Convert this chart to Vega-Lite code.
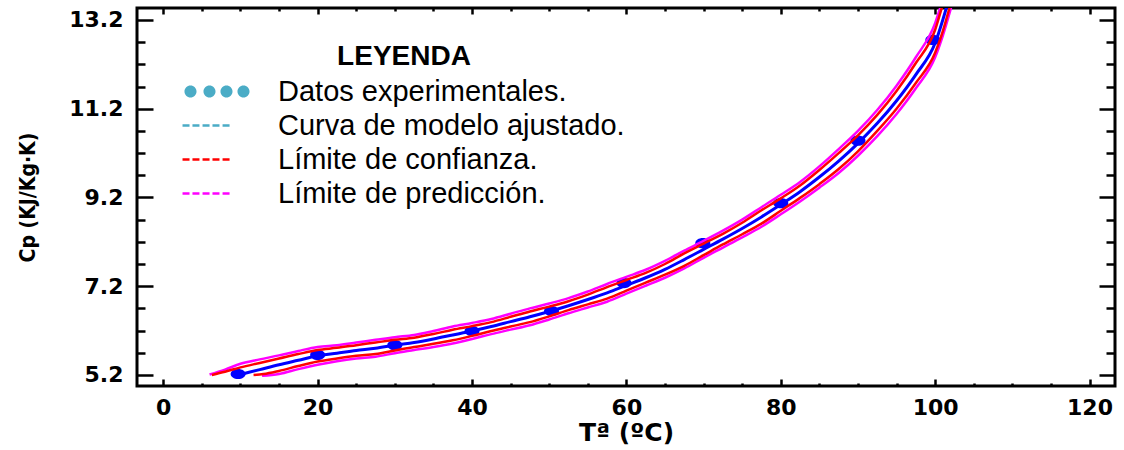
{
  "$schema": "https://vega.github.io/schema/vega-lite/v6.json",
  "width": 978,
  "height": 378,
  "autosize": {"type": "none"},
  "padding": {"left": 137, "top": 8, "right": 9, "bottom": 64},
  "background": "white",
  "config": {
    "view": {"stroke": "black", "strokeWidth": 3},
    "axis": {"grid": false, "domain": false, "tickColor": "black", "tickWidth": 2.5, "labelColor": "black", "titleColor": "black", "labelFlush": false, "labelOverlap": false}
  },
  "datasets": {
    "pts": [
      {"T": 9.7, "Cp": 5.22}, {"T": 20, "Cp": 5.65}, {"T": 30, "Cp": 5.87}, {"T": 40, "Cp": 6.19},
      {"T": 50.3, "Cp": 6.64}, {"T": 59.7, "Cp": 7.27}, {"T": 69.9, "Cp": 8.17}, {"T": 80, "Cp": 9.07},
      {"T": 90, "Cp": 10.48}, {"T": 99.7, "Cp": 12.75}
    ],
    "fit": [
      {"T": 10, "Cp": 5.21}, {"T": 12.5, "Cp": 5.32}, {"T": 15, "Cp": 5.43}, {"T": 17.5, "Cp": 5.53},
      {"T": 20, "Cp": 5.63}, {"T": 22.5, "Cp": 5.69}, {"T": 25, "Cp": 5.75}, {"T": 27.5, "Cp": 5.8},
      {"T": 30, "Cp": 5.87}, {"T": 32.5, "Cp": 5.93}, {"T": 35, "Cp": 6.01}, {"T": 37.5, "Cp": 6.1},
      {"T": 40, "Cp": 6.19}, {"T": 42.5, "Cp": 6.29}, {"T": 45, "Cp": 6.4}, {"T": 47.5, "Cp": 6.51},
      {"T": 50, "Cp": 6.63}, {"T": 52.5, "Cp": 6.76}, {"T": 55, "Cp": 6.9}, {"T": 57.5, "Cp": 7.05},
      {"T": 60, "Cp": 7.22}, {"T": 62.5, "Cp": 7.39}, {"T": 65, "Cp": 7.58}, {"T": 67.5, "Cp": 7.8},
      {"T": 70, "Cp": 8.03}, {"T": 72.5, "Cp": 8.26}, {"T": 75, "Cp": 8.5}, {"T": 77.5, "Cp": 8.76},
      {"T": 80, "Cp": 9.04}, {"T": 82.5, "Cp": 9.33}, {"T": 85, "Cp": 9.66}, {"T": 87.5, "Cp": 10.02},
      {"T": 90, "Cp": 10.42}, {"T": 92.5, "Cp": 10.87}, {"T": 95, "Cp": 11.38}, {"T": 97.5, "Cp": 11.97},
      {"T": 100, "Cp": 12.68}, {"T": 101.5, "Cp": 13.5}
    ],
    "conf": [
      {"s": "up", "T": 6.3, "Cp": 5.2}, {"s": "up", "T": 8, "Cp": 5.27}, {"s": "up", "T": 10, "Cp": 5.37},
      {"s": "up", "T": 12.5, "Cp": 5.47}, {"s": "up", "T": 15, "Cp": 5.57}, {"s": "up", "T": 17.5, "Cp": 5.67},
      {"s": "up", "T": 20, "Cp": 5.76}, {"s": "up", "T": 22.5, "Cp": 5.81}, {"s": "up", "T": 25, "Cp": 5.87},
      {"s": "up", "T": 27.5, "Cp": 5.93}, {"s": "up", "T": 30, "Cp": 5.99}, {"s": "up", "T": 32.5, "Cp": 6.04},
      {"s": "up", "T": 35, "Cp": 6.12}, {"s": "up", "T": 37.5, "Cp": 6.22}, {"s": "up", "T": 40, "Cp": 6.3},
      {"s": "up", "T": 42.5, "Cp": 6.39}, {"s": "up", "T": 45, "Cp": 6.51}, {"s": "up", "T": 47.5, "Cp": 6.63},
      {"s": "up", "T": 50, "Cp": 6.74}, {"s": "up", "T": 52.5, "Cp": 6.86}, {"s": "up", "T": 55, "Cp": 7.01},
      {"s": "up", "T": 57.5, "Cp": 7.18}, {"s": "up", "T": 60, "Cp": 7.34}, {"s": "up", "T": 62.5, "Cp": 7.5},
      {"s": "up", "T": 65, "Cp": 7.7}, {"s": "up", "T": 67.5, "Cp": 7.94}, {"s": "up", "T": 70, "Cp": 8.16},
      {"s": "up", "T": 72.5, "Cp": 8.38}, {"s": "up", "T": 75, "Cp": 8.63}, {"s": "up", "T": 77.5, "Cp": 8.91},
      {"s": "up", "T": 80, "Cp": 9.18}, {"s": "up", "T": 82.5, "Cp": 9.47}, {"s": "up", "T": 85, "Cp": 9.82},
      {"s": "up", "T": 87.5, "Cp": 10.2}, {"s": "up", "T": 90, "Cp": 10.6}, {"s": "up", "T": 92.5, "Cp": 11.06},
      {"s": "up", "T": 95, "Cp": 11.6}, {"s": "up", "T": 97.5, "Cp": 12.23}, {"s": "up", "T": 100, "Cp": 12.98},
      {"s": "up", "T": 100.9, "Cp": 13.5},
      {"s": "lo", "T": 11.7, "Cp": 5.2}, {"s": "lo", "T": 13, "Cp": 5.22}, {"s": "lo", "T": 15, "Cp": 5.29},
      {"s": "lo", "T": 17.5, "Cp": 5.4}, {"s": "lo", "T": 20, "Cp": 5.5}, {"s": "lo", "T": 22.5, "Cp": 5.57},
      {"s": "lo", "T": 25, "Cp": 5.63}, {"s": "lo", "T": 27.5, "Cp": 5.67}, {"s": "lo", "T": 30, "Cp": 5.75},
      {"s": "lo", "T": 32.5, "Cp": 5.83}, {"s": "lo", "T": 35, "Cp": 5.9}, {"s": "lo", "T": 37.5, "Cp": 5.98},
      {"s": "lo", "T": 40, "Cp": 6.08}, {"s": "lo", "T": 42.5, "Cp": 6.19}, {"s": "lo", "T": 45, "Cp": 6.29},
      {"s": "lo", "T": 47.5, "Cp": 6.39}, {"s": "lo", "T": 50, "Cp": 6.52}, {"s": "lo", "T": 52.5, "Cp": 6.66},
      {"s": "lo", "T": 55, "Cp": 6.79}, {"s": "lo", "T": 57.5, "Cp": 6.92}, {"s": "lo", "T": 60, "Cp": 7.1},
      {"s": "lo", "T": 62.5, "Cp": 7.28}, {"s": "lo", "T": 65, "Cp": 7.46}, {"s": "lo", "T": 67.5, "Cp": 7.66},
      {"s": "lo", "T": 70, "Cp": 7.9}, {"s": "lo", "T": 72.5, "Cp": 8.14}, {"s": "lo", "T": 75, "Cp": 8.37},
      {"s": "lo", "T": 77.5, "Cp": 8.61}, {"s": "lo", "T": 80, "Cp": 8.9}, {"s": "lo", "T": 82.5, "Cp": 9.19},
      {"s": "lo", "T": 85, "Cp": 9.5}, {"s": "lo", "T": 87.5, "Cp": 9.84}, {"s": "lo", "T": 90, "Cp": 10.24},
      {"s": "lo", "T": 92.5, "Cp": 10.7}, {"s": "lo", "T": 95, "Cp": 11.2}, {"s": "lo", "T": 97.5, "Cp": 11.78},
      {"s": "lo", "T": 100, "Cp": 12.46}, {"s": "lo", "T": 101, "Cp": 12.95}, {"s": "lo", "T": 101.9, "Cp": 13.5}
    ],
    "pred": [
      {"s": "up", "T": 6.0, "Cp": 5.21}, {"s": "up", "T": 8, "Cp": 5.32}, {"s": "up", "T": 10, "Cp": 5.45},
      {"s": "up", "T": 12.5, "Cp": 5.55}, {"s": "up", "T": 15, "Cp": 5.64}, {"s": "up", "T": 17.5, "Cp": 5.74},
      {"s": "up", "T": 20, "Cp": 5.83}, {"s": "up", "T": 22.5, "Cp": 5.87}, {"s": "up", "T": 25, "Cp": 5.93},
      {"s": "up", "T": 27.5, "Cp": 5.99}, {"s": "up", "T": 30, "Cp": 6.05}, {"s": "up", "T": 32.5, "Cp": 6.1},
      {"s": "up", "T": 35, "Cp": 6.19}, {"s": "up", "T": 37.5, "Cp": 6.29}, {"s": "up", "T": 40, "Cp": 6.37},
      {"s": "up", "T": 42.5, "Cp": 6.46}, {"s": "up", "T": 45, "Cp": 6.58}, {"s": "up", "T": 47.5, "Cp": 6.7},
      {"s": "up", "T": 50, "Cp": 6.81}, {"s": "up", "T": 52.5, "Cp": 6.93}, {"s": "up", "T": 55, "Cp": 7.08},
      {"s": "up", "T": 57.5, "Cp": 7.25}, {"s": "up", "T": 60, "Cp": 7.41}, {"s": "up", "T": 62.5, "Cp": 7.57},
      {"s": "up", "T": 65, "Cp": 7.77}, {"s": "up", "T": 67.5, "Cp": 8.0}, {"s": "up", "T": 70, "Cp": 8.22},
      {"s": "up", "T": 72.5, "Cp": 8.45}, {"s": "up", "T": 75, "Cp": 8.7}, {"s": "up", "T": 77.5, "Cp": 8.98},
      {"s": "up", "T": 80, "Cp": 9.26}, {"s": "up", "T": 82.5, "Cp": 9.55}, {"s": "up", "T": 85, "Cp": 9.9},
      {"s": "up", "T": 87.5, "Cp": 10.29}, {"s": "up", "T": 90, "Cp": 10.7}, {"s": "up", "T": 92.5, "Cp": 11.17},
      {"s": "up", "T": 95, "Cp": 11.72}, {"s": "up", "T": 97.5, "Cp": 12.36}, {"s": "up", "T": 100, "Cp": 13.13},
      {"s": "up", "T": 100.7, "Cp": 13.5},
      {"s": "lo", "T": 12.8, "Cp": 5.18}, {"s": "lo", "T": 15, "Cp": 5.22}, {"s": "lo", "T": 17.5, "Cp": 5.33},
      {"s": "lo", "T": 20, "Cp": 5.43}, {"s": "lo", "T": 22.5, "Cp": 5.51}, {"s": "lo", "T": 25, "Cp": 5.57},
      {"s": "lo", "T": 27.5, "Cp": 5.61}, {"s": "lo", "T": 30, "Cp": 5.69}, {"s": "lo", "T": 32.5, "Cp": 5.76},
      {"s": "lo", "T": 35, "Cp": 5.83}, {"s": "lo", "T": 37.5, "Cp": 5.91}, {"s": "lo", "T": 40, "Cp": 6.01},
      {"s": "lo", "T": 42.5, "Cp": 6.12}, {"s": "lo", "T": 45, "Cp": 6.22}, {"s": "lo", "T": 47.5, "Cp": 6.32},
      {"s": "lo", "T": 50, "Cp": 6.45}, {"s": "lo", "T": 52.5, "Cp": 6.59}, {"s": "lo", "T": 55, "Cp": 6.72},
      {"s": "lo", "T": 57.5, "Cp": 6.85}, {"s": "lo", "T": 60, "Cp": 7.03}, {"s": "lo", "T": 62.5, "Cp": 7.21},
      {"s": "lo", "T": 65, "Cp": 7.39}, {"s": "lo", "T": 67.5, "Cp": 7.6}, {"s": "lo", "T": 70, "Cp": 7.84},
      {"s": "lo", "T": 72.5, "Cp": 8.07}, {"s": "lo", "T": 75, "Cp": 8.3}, {"s": "lo", "T": 77.5, "Cp": 8.54},
      {"s": "lo", "T": 80, "Cp": 8.82}, {"s": "lo", "T": 82.5, "Cp": 9.11}, {"s": "lo", "T": 85, "Cp": 9.42},
      {"s": "lo", "T": 87.5, "Cp": 9.75}, {"s": "lo", "T": 90, "Cp": 10.14}, {"s": "lo", "T": 92.5, "Cp": 10.58},
      {"s": "lo", "T": 95, "Cp": 11.08}, {"s": "lo", "T": 97.5, "Cp": 11.66}, {"s": "lo", "T": 100, "Cp": 12.36},
      {"s": "lo", "T": 101, "Cp": 12.85}, {"s": "lo", "T": 102.1, "Cp": 13.5}
    ],
    "leg": [
      {"label": "Datos experimentales."},
      {"label": "Curva de modelo ajustado."},
      {"label": "Límite de confianza."},
      {"label": "Límite de predicción."}
    ]
  },
  "resolve": {"axis": {"x": "independent", "y": "independent"}},
  "layer": [
    {
      "data": {"name": "pts"},
      "mark": {"type": "point", "filled": true, "opacity": 1, "color": "#0000FF", "size": 225, "shape": "M-1,0A1,0.68,0,1,0,1,0A1,0.68,0,1,0,-1,0Z"},
      "encoding": {
        "x": {"field": "T", "type": "quantitative", "scale": {"domain": [-3.4, 123.3], "nice": false, "zero": false},
          "axis": {"orient": "bottom", "values": [0, 20, 40, 60, 80, 100, 120], "format": "d", "tickSize": -7, "labelPadding": 18,
            "labelFont": "DejaVu Sans", "labelFontSize": 22, "labelFontWeight": "bold",
            "title": "Tª (ºC)", "titleFont": "DejaVu Sans", "titleFontSize": 25, "titleFontWeight": "bold", "titlePadding": 2}},
        "y": {"field": "Cp", "type": "quantitative", "scale": {"domain": [4.95, 13.47], "nice": false, "zero": false},
          "axis": {"orient": "left", "values": [5.2, 7.2, 9.2, 11.2, 13.2], "format": ".1f", "tickSize": -16, "labelPadding": 30,
            "labelFont": "DejaVu Sans", "labelFontSize": 22, "labelFontWeight": "bold",
            "title": "Cp (KJ/Kg·K)", "titleFont": "DejaVu Sans Condensed, Liberation Sans", "titleFontSize": 21, "titleFontWeight": "bold", "titlePadding": 30}}
      }
    },
    {
      "data": {"name": "pred"},
      "mark": {"type": "line", "color": "#FF00FF", "strokeWidth": 2.5, "clip": true, "interpolate": "monotone"},
      "encoding": {
        "detail": {"field": "s"},
        "x": {"field": "T", "type": "quantitative", "scale": {"domain": [-3.4, 123.3], "nice": false, "zero": false},
          "axis": {"orient": "top", "values": [5, 10, 15, 25, 30, 35, 45, 50, 55, 65, 70, 75, 85, 90, 95, 105, 110, 115], "tickSize": -3, "labels": false, "title": null}},
        "y": {"field": "Cp", "type": "quantitative", "scale": {"domain": [4.95, 13.47], "nice": false, "zero": false},
          "axis": {"orient": "right", "values": [5.7, 6.2, 6.7, 7.7, 8.2, 8.7, 9.7, 10.2, 10.7, 11.7, 12.2, 12.7], "tickSize": -9, "labels": false, "title": null}}
      }
    },
    {
      "data": {"name": "conf"},
      "mark": {"type": "line", "color": "#FF0000", "strokeWidth": 2.5, "clip": true, "interpolate": "monotone"},
      "encoding": {
        "detail": {"field": "s"},
        "x": {"field": "T", "type": "quantitative", "scale": {"domain": [-3.4, 123.3], "nice": false, "zero": false},
          "axis": {"orient": "top", "values": [0, 20, 40, 60, 80, 100, 120], "tickSize": -6, "labels": false, "title": null}},
        "y": {"field": "Cp", "type": "quantitative", "scale": {"domain": [4.95, 13.47], "nice": false, "zero": false},
          "axis": {"orient": "right", "values": [5.2, 7.2, 9.2, 11.2, 13.2], "tickSize": -16, "labels": false, "title": null}}
      }
    },
    {
      "data": {"name": "fit"},
      "mark": {"type": "line", "color": "#0000FF", "strokeWidth": 3, "clip": true, "interpolate": "monotone"},
      "encoding": {
        "x": {"field": "T", "type": "quantitative", "scale": {"domain": [-3.4, 123.3], "nice": false, "zero": false},
          "axis": {"orient": "bottom", "values": [5, 10, 15, 25, 30, 35, 45, 50, 55, 65, 70, 75, 85, 90, 95, 105, 110, 115], "tickSize": -3, "labels": false, "title": null}},
        "y": {"field": "Cp", "type": "quantitative", "scale": {"domain": [4.95, 13.47], "nice": false, "zero": false},
          "axis": {"orient": "left", "values": [5.7, 6.2, 6.7, 7.7, 8.2, 8.7, 9.7, 10.2, 10.7, 11.7, 12.2, 12.7], "tickSize": -8, "labels": false, "title": null}}
      }
    },
    {
      "data": {"name": "leg"},
      "mark": {"type": "point", "filled": true, "opacity": 0},
      "encoding": {
        "fill": {"field": "label", "type": "nominal",
          "scale": {"domain": ["Datos experimentales.", "Curva de modelo ajustado.", "Límite de confianza.", "Límite de predicción."],
            "range": ["#4BACC6", "#4BACC6", "#FF0000", "#FF00FF"]},
          "legend": {"orient": "none", "legendX": 46, "legendY": 35, "title": "LEYENDA", "titleFont": "Liberation Sans", "titleFontSize": 28, "titleFontWeight": "bold", "titleColor": "black", "titleAnchor": "middle", "titlePadding": 6,
            "labelFont": "Liberation Sans", "labelFontSize": 29, "labelColor": "black", "labelLimit": 600, "labelOffset": 66,
            "symbolSize": 784, "symbolOpacity": 1, "symbolStrokeWidth": 0, "rowPadding": 4, "padding": 0}},
        "shape": {"field": "label", "type": "nominal",
          "scale": {"domain": ["Datos experimentales.", "Curva de modelo ajustado.", "Límite de confianza.", "Límite de predicción."],
            "range": [
              "M-0.93,0A0.43,0.43,0,1,0,-0.07,0A0.43,0.43,0,1,0,-0.93,0ZM0.427,0A0.43,0.43,0,1,0,1.287,0A0.43,0.43,0,1,0,0.427,0ZM1.641,0A0.43,0.43,0,1,0,2.501,0A0.43,0.43,0,1,0,1.641,0ZM2.856,0A0.43,0.43,0,1,0,3.716,0A0.43,0.43,0,1,0,2.856,0Z",
              "M-1.07,-0.09H-0.57V0.09H-1.07ZM-0.36,-0.09H0.14V0.09H-0.36ZM0.36,-0.09H0.86V0.09H0.36ZM1.07,-0.09H1.57V0.09H1.07ZM1.79,-0.09H2.29V0.09H1.79Z",
              "M-1.07,-0.09H-0.57V0.09H-1.07ZM-0.36,-0.09H0.14V0.09H-0.36ZM0.36,-0.09H0.86V0.09H0.36ZM1.07,-0.09H1.57V0.09H1.07ZM1.79,-0.09H2.29V0.09H1.79Z",
              "M-1.07,-0.09H-0.57V0.09H-1.07ZM-0.36,-0.09H0.14V0.09H-0.36ZM0.36,-0.09H0.86V0.09H0.36ZM1.07,-0.09H1.57V0.09H1.07ZM1.79,-0.09H2.29V0.09H1.79Z"
            ]},
          "legend": {"orient": "none", "legendX": 46, "legendY": 35, "title": "LEYENDA", "titleFont": "Liberation Sans", "titleFontSize": 28, "titleFontWeight": "bold", "titleColor": "black", "titleAnchor": "middle", "titlePadding": 6,
            "labelFont": "Liberation Sans", "labelFontSize": 29, "labelColor": "black", "labelLimit": 600, "labelOffset": 66,
            "symbolSize": 784, "symbolOpacity": 1, "symbolStrokeWidth": 0, "rowPadding": 4, "padding": 0}}
      }
    }
  ]
}
